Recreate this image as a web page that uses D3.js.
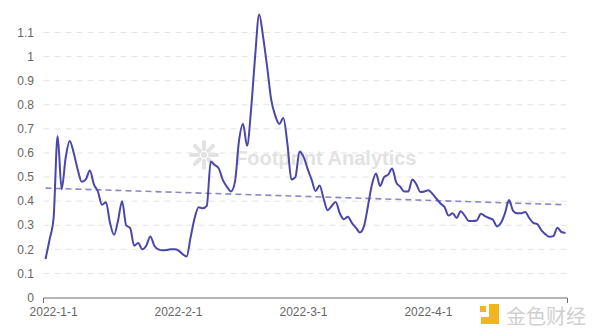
<!DOCTYPE html>
<html><head><meta charset="utf-8">
<script src="https://cdn.jsdelivr.net/npm/d3@7/dist/d3.min.js"></script>
<style>body{margin:0;background:#fff}svg{display:block}</style>
</head><body><svg id="c" width="596" height="336"></svg>
<script>
const values = [0.16,0.24,0.33,0.67,0.45,0.58,0.65,0.6,0.53,0.48,
0.49,0.527,0.47,0.44,0.385,0.395,0.31,0.26,0.32,0.40,
0.3,0.288,0.215,0.226,0.2,0.215,0.253,0.215,0.2,0.196,
0.197,0.2,0.2,0.195,0.18,0.17,0.25,0.33,0.375,0.37,
0.38,0.565,0.55,0.535,0.487,0.46,0.44,0.48,0.65,0.72,
0.63,0.78,1.0,1.175,1.08,0.955,0.82,0.755,0.72,0.745,
0.64,0.49,0.5,0.605,0.585,0.535,0.49,0.442,0.465,0.41,
0.362,0.38,0.396,0.35,0.325,0.335,0.31,0.29,0.27,0.295,
0.38,0.47,0.515,0.463,0.5,0.51,0.535,0.478,0.46,0.44,
0.44,0.49,0.47,0.438,0.44,0.445,0.43,0.41,0.39,0.375,
0.34,0.35,0.33,0.358,0.34,0.318,0.318,0.32,0.348,0.338,
0.33,0.323,0.295,0.31,0.35,0.405,0.36,0.35,0.35,0.355,
0.33,0.31,0.305,0.28,0.263,0.252,0.255,0.29,0.272,0.268];
const trendValues = [0.454, 0.385];
const tickLabels = ["2022-1-1","2022-2-1","2022-3-1","2022-4-1"];
const tickIndex = [2,33,64,95];
const yTicks = [0,0.1,0.2,0.3,0.4,0.5,0.6,0.7,0.8,0.9,1,1.1];

const svg = d3.select("#c");
const L=43.5, R=567.5, T=32.5, B=297.5;
const N = values.length;
const x = d3.scaleLinear().domain([-0.5, N-0.5]).range([L,R]);
const y = d3.scaleLinear().domain([0,1.1]).range([B,T]);

// grid
svg.append("g").selectAll("line").data(yTicks.filter(d=>d>0)).join("line")
  .attr("x1",L).attr("x2",R).attr("y1",d=>y(d)).attr("y2",d=>y(d))
  .attr("stroke","#e3e3e3").attr("stroke-dasharray","6,5");

// y labels
svg.append("g").selectAll("text").data(yTicks).join("text")
  .attr("x",34).attr("y",d=>y(d)).attr("dy","0.35em").attr("text-anchor","end")
  .attr("font-family","Liberation Sans, Arial, sans-serif").attr("font-size",12).attr("fill","#666")
  .text(d=>d3.format("~g")(d));

// watermark Footprint
const wm = svg.append("g");
wm.append("text").attr("x",235).attr("y",165).attr("font-family","Liberation Sans, Arial, sans-serif")
  .attr("font-weight","bold").attr("font-size",20).attr("fill","#e2e2e2").text("Footprint Analytics");
const cx=204, cy=155;
d3.range(8).forEach(k=>{const a=k*Math.PI/4;
  wm.append("line").attr("x1",cx+6*Math.cos(a)).attr("y1",cy+6*Math.sin(a))
   .attr("x2",cx+13*Math.cos(a)).attr("y2",cy+13*Math.sin(a))
   .attr("stroke","#e2e2e2").attr("stroke-width",4).attr("stroke-linecap","round");});
wm.append("circle").attr("cx",cx).attr("cy",cy).attr("r",3).attr("fill","#e2e2e2");

// x axis
svg.append("line").attr("x1",L).attr("x2",R).attr("y1",B+0.5).attr("y2",B+0.5).attr("stroke","#6e6e6e");
[L,R].forEach(px=>svg.append("line").attr("x1",px).attr("x2",px).attr("y1",B+0.5).attr("y2",B+5.5).attr("stroke","#6e6e6e"));
svg.append("g").selectAll("text").data(tickIndex).join("text")
  .attr("x",d=>x(d)).attr("y",316).attr("text-anchor","middle")
  .attr("font-family","Liberation Sans, Arial, sans-serif").attr("font-size",12).attr("fill","#666")
  .text((d,i)=>tickLabels[i]);

// trend
svg.append("path").datum(trendValues)
  .attr("d",d3.line().x((d,i)=>x(i*(N-1))).y(d=>y(d)))
  .attr("fill","none").attr("stroke","#8a88c6").attr("stroke-width",1.6).attr("stroke-dasharray","6,4");

// main line
svg.append("path").datum(values)
  .attr("d",d3.line().x((d,i)=>x(i)).y(d=>y(d)).curve(d3.curveMonotoneX))
  .attr("fill","none").attr("stroke","#4a47a8").attr("stroke-width",2);

// jinse watermark
const jw = svg.append("g");
jw.append("rect").attr("x",480).attr("y",306).attr("width",6).attr("height",6).attr("fill","#f2b51c");
jw.append("path").attr("d","M489,304 h10 v20 h-18 v-7 h8 z").attr("fill","#f2b51c");
jw.append("text").attr("x",506).attr("y",324).attr("font-family","Noto Sans CJK SC").attr("font-size",20)
  .attr("fill","#d0d0d0").text("金色财经");
</script></body></html>
